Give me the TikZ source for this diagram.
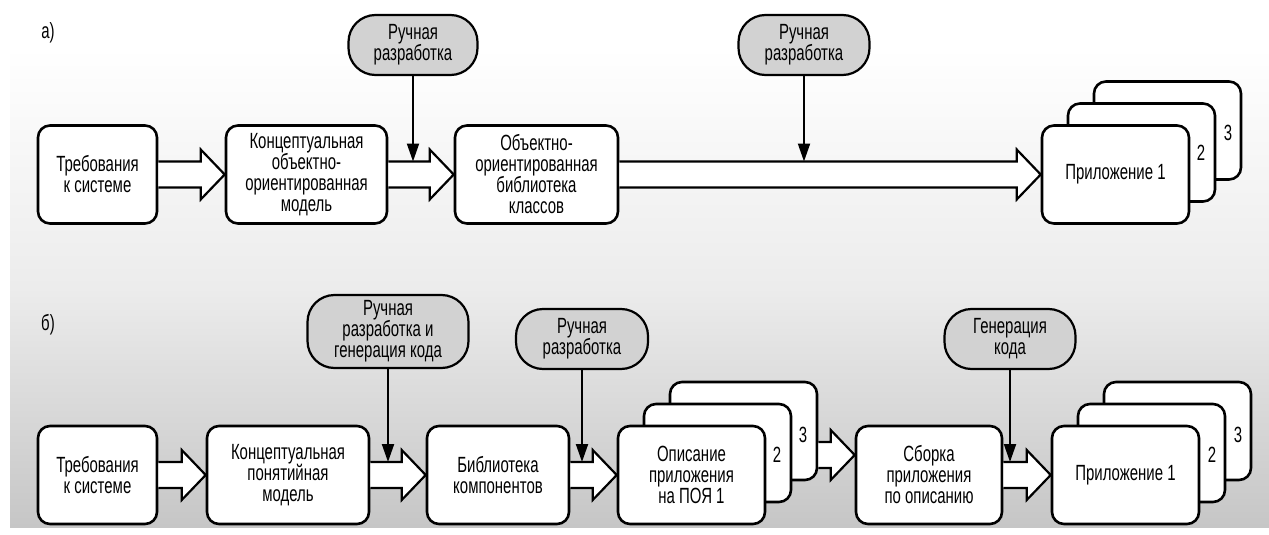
\documentclass[tikz,border=0pt]{standalone}
\usepackage{fontspec}
\setmainfont{Liberation Sans}[FakeStretch=0.68]
\usetikzlibrary{arrows.meta,calc}
\definecolor{pillgray}{RGB}{210,210,210}
\definecolor{bgbottom}{RGB}{198,198,198}
\definecolor{bgmid}{RGB}{236,236,236}
\tikzset{
 box/.style={draw, fill=white, rounded corners=12pt, line width=2.6pt, align=center, inner sep=0pt, minimum height=98pt},
 pill/.style={draw, fill=pillgray, rounded corners=27pt, line width=2.2pt, align=center, inner sep=0pt, minimum height=60pt},
 barr/.style={draw, fill=white, line width=2.2pt, line join=miter},
 marr/.style={line width=2pt, -{Triangle[length=18pt,width=12pt]}},
 lbl/.style={inner sep=0pt},
 every node/.style={font=\fontsize{22}{21}\selectfont},
}
\newcommand{\barrow}[3][0pt]{%
  \draw[barr] let \p1=(#2.east), \p2=(#3.west) in
   (\x1,{\y2+#1+13pt}) -- ({\x2-24pt},{\y2+#1+13pt}) -- ({\x2-24pt},{\y2+#1+25pt}) -- (\x2,{\y2+#1})
   -- ({\x2-24pt},{\y2+#1-25pt}) -- ({\x2-24pt},{\y2+#1-13pt}) -- (\x1,{\y2+#1-13pt});}
\begin{document}
\begin{tikzpicture}[x=1pt,y=-1pt]
\useasboundingbox (0,0) rectangle (1269,535);
\shade[top color=white, bottom color=bgbottom, middle color=bgmid] (10,47) rectangle (1269,527);

% panel a
\node[lbl] (la) at (48,33) {а)};
\node[box, minimum width=119pt] (a1) at (97.5,174.5) {Требования\\к системе};
\node[box, minimum width=161pt] (a2) at (306.5,174.5) {Концептуальная\\объектно-\\ориентированная\\модель};
\node[box, minimum width=163pt] (a3) at (536.5,174.5) {Объектно-\\ориентированная\\библиотека\\классов};
\node[box, minimum width=147pt] (a4c) at (1167.5,130.5) {};
\node[box, minimum width=147pt] (a4b) at (1141.5,152.5) {};
\node[box, minimum width=147pt] (a4a) at (1115.5,174.5) {Приложение 1};
\node[lbl] (a4n2) at (1201,153) {2};
\node[lbl] (a4n3) at (1228,133) {3};
\node[pill, minimum width=129pt] (pa1) at (413,45) {Ручная\\разработка};
\node[pill, minimum width=131pt] (pa2) at (804,45) {Ручная\\разработка};
\coordinate (ta1) at (413,161.5);
\coordinate (ta2) at (804,161.5);
\barrow{a1}{a2}
\barrow{a2}{a3}
\barrow{a3}{a4a}
\draw[marr] (pa1.south) -- (ta1);
\draw[marr] (pa2.south) -- (ta2);

% panel b
\node[lbl] (lb) at (48,325) {б)};
\node[box, minimum width=119pt] (b1) at (97.5,475) {Требования\\к системе};
\node[box, minimum width=162pt] (b2) at (288,475) {Концептуальная\\понятийная\\модель};
\node[box, minimum width=142pt] (b3) at (498,475) {Библиотека\\компонентов};
\node[box, minimum width=147pt] (b4c) at (743.5,431) {};
\node[box, minimum width=147pt] (b4b) at (717.5,453) {};
\node[box, minimum width=147pt] (b4a) at (691.5,475) {Описание\\приложения\\на ПОЯ 1};
\node[lbl] (b4n2) at (777,455) {2};
\node[lbl] (b4n3) at (803,435) {3};
\node[box, minimum width=146pt] (b5) at (929,475) {Сборка\\приложения\\по описанию};
\node[box, minimum width=147pt] (b6c) at (1177.5,431) {};
\node[box, minimum width=147pt] (b6b) at (1151.5,453) {};
\node[box, minimum width=147pt] (b6a) at (1125.5,475) {Приложение 1};
\node[lbl] (b6n2) at (1212,455) {2};
\node[lbl] (b6n3) at (1238,435) {3};
\node[pill, minimum width=161pt, minimum height=73pt] (pb1) at (388,331.5) {Ручная\\разработка и\\генерация кода};
\node[pill, minimum width=132pt] (pb2) at (582,339) {Ручная\\разработка};
\node[pill, minimum width=131pt] (pb3) at (1010,339) {Генерация\\кода};
\coordinate (tb1) at (388,462);
\coordinate (tb2) at (582,462);
\coordinate (tb3) at (1010,462);
\barrow{b1}{b2}
\barrow{b2}{b3}
\barrow{b3}{b4a}
\barrow[20pt]{b4c}{b5}
\barrow{b5}{b6a}
\draw[marr] (pb1.south) -- (tb1);
\draw[marr] (pb2.south) -- (tb2);
\draw[marr] (pb3.south) -- (tb3);
\end{tikzpicture}
\end{document}
